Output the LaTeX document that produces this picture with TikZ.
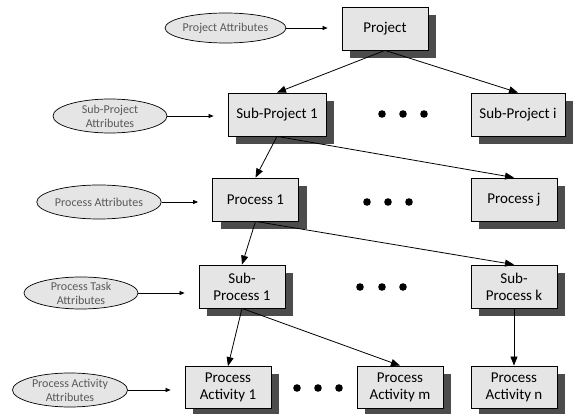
\documentclass[tikz,border=0pt]{standalone}
\usepackage{fontspec}
\setmainfont{Carlito}
\usetikzlibrary{shapes.geometric,shadows,arrows.meta}
\begin{document}
\begin{tikzpicture}[x=1pt,y=-1pt,
  level/.style={draw,line width=0.8pt,fill=black!10,minimum width=86pt,minimum height=43pt,inner sep=1pt,align=center,
    font=\fontsize{15}{17}\selectfont,
    drop shadow={shadow xshift=8pt,shadow yshift=-8pt,fill=black!70,opacity=1}},
  attrib/.style={draw,ellipse,line width=0.7pt,fill=black!10,minimum width=114pt,minimum height=34pt,inner xsep=0pt,inner ysep=-2pt,
    align=center,text=black!65,font=\fontsize{12}{14}\selectfont},
  link/.style={-{Triangle[length=9pt,width=7pt]},line width=0.8pt},
  feed/.style={-{Triangle[length=5pt,width=4pt]},line width=0.7pt,shorten >=14pt}]
\useasboundingbox (0,0) rectangle (574,414);
% Draw the boxes of each level
\node[level] (proj) at (385,28.5) {Project};
\node[level,minimum width=98pt] (subproj1) at (277,114.5) {Sub-Project 1};
\node[level,minimum width=94pt] (subproji) at (518,114.5) {Sub-Project i};
\node[level] (proc1) at (255.5,199.5) {Process 1};
\node[level] (procj) at (514,199.5) {Process j};
\node[level] (subproc1) at (242,286.5) {Sub-\\Process 1};
\node[level] (subprock) at (514,286.5) {Sub-\\Process k};
\node[level,minimum height=42pt] (act1) at (228,387.5) {Process\\Activity 1};
\node[level,minimum height=42pt] (actm) at (400,387) {Process\\Activity m};
\node[level,minimum height=42pt] (actn) at (514,387) {Process\\Activity n};
% Draw the attribute ellipses
\node[attrib,minimum width=115pt,minimum height=30pt] (projattr) at (225.5,28) {Project Attributes};
\node[attrib] (subprojattr) at (110,116) {Sub-Project\\Attributes};
\node[attrib] (procattr) at (99,202) {Process Attributes};
\node[attrib,minimum height=32pt] (taskattr) at (81,293) {Process Task\\Attributes};
\node[attrib,minimum width=115pt] (actattr) at (70,390) {Process Activity\\Attributes};
% Draw the attribute arrows
\draw[feed] (projattr) -- (projattr -| proj.west);
\draw[feed] (subprojattr) -- (subprojattr -| subproj1.west);
\draw[feed] (procattr) -- (procattr -| proc1.west);
\draw[feed] (taskattr) -- (taskattr -| subproc1.west);
\draw[feed] (actattr) -- (actattr -| act1.west);
% Draw the tree links
\draw[link] (proj.south) -- (subproj1.north);
\draw[link] (proj.south) -- (subproji.north);
\draw[link] (subproj1.south) -- (proc1.north);
\draw[link] (subproj1.south) -- (procj.north);
\draw[link] (proc1.south) -- (subproc1.north);
\draw[link] (proc1.south) -- (subprock.north);
\draw[link] (subproc1.south) -- (act1.north);
\draw[link] (subproc1.south) -- (actm.north);
\draw[link] (subprock) -- (actn);
% Draw the dots
\foreach \x in {382,403,424} \fill (\x,114) circle (3.8pt);
\foreach \x in {367,388,409} \fill (\x,202) circle (3.8pt);
\foreach \x in {360,382,403} \fill (\x,287) circle (3.8pt);
\foreach \x in {297,318,339} \fill (\x,388) circle (3.8pt);
\end{tikzpicture}
\end{document}
